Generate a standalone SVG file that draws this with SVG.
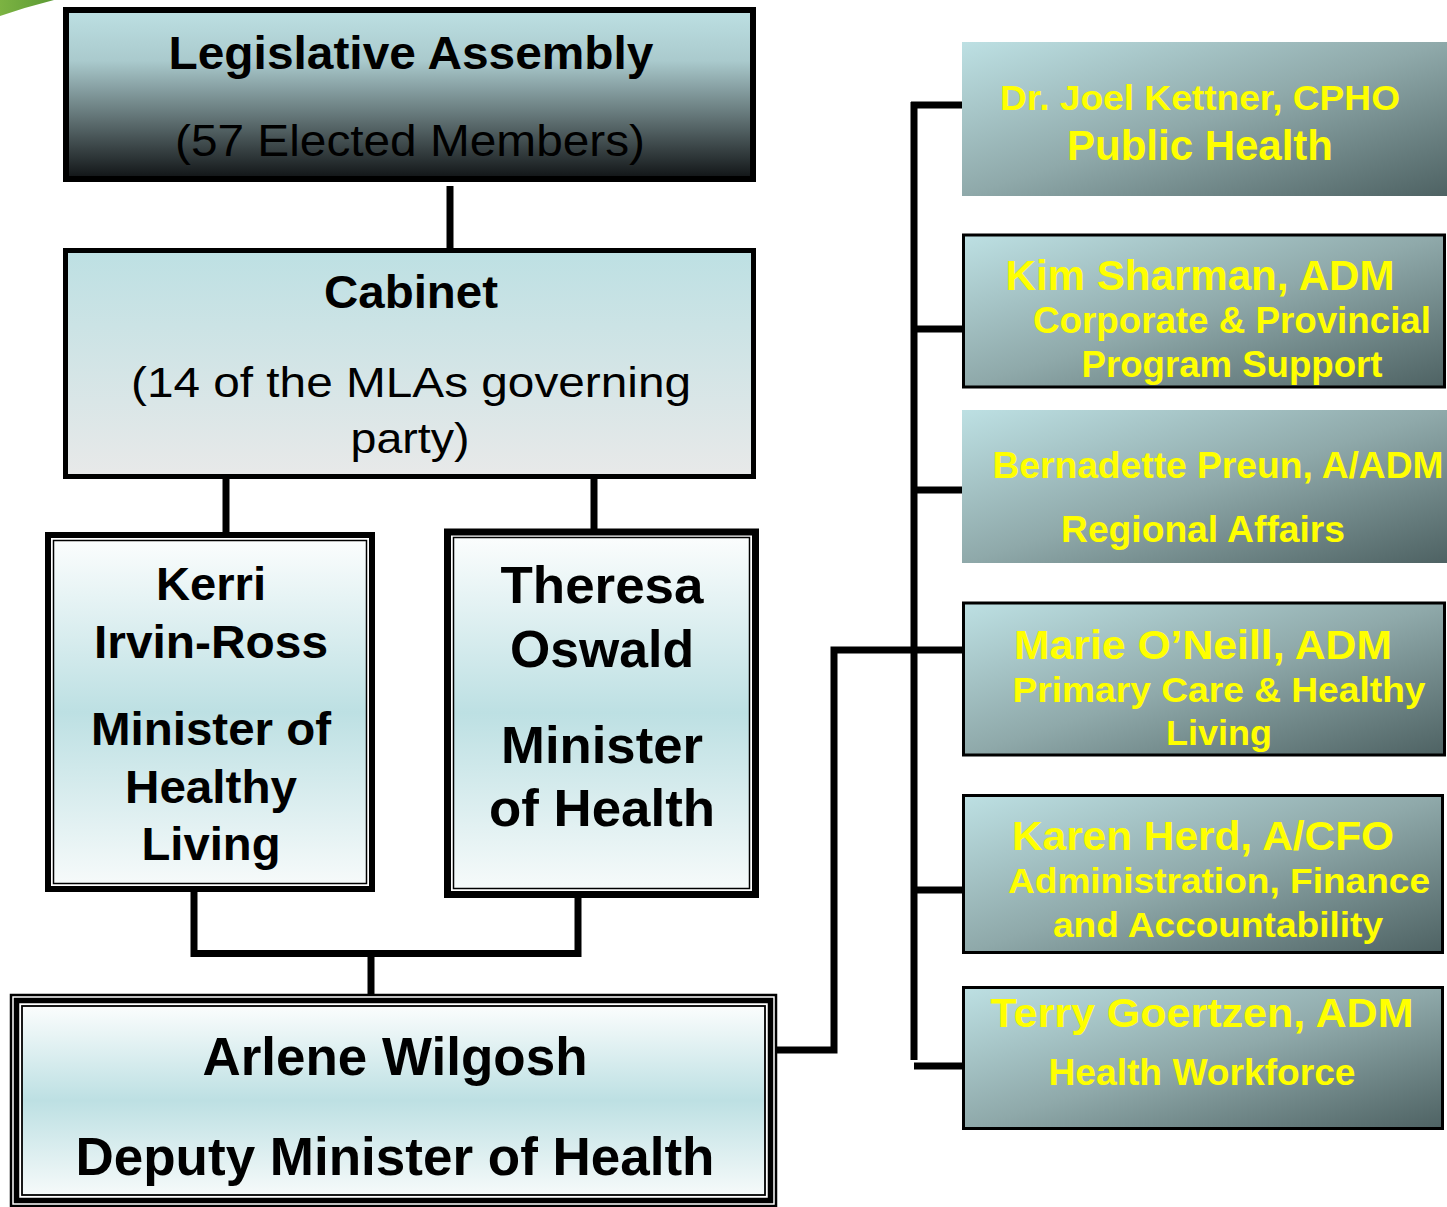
<svg xmlns="http://www.w3.org/2000/svg" width="1447" height="1207" viewBox="0 0 1447 1207">
<defs>
<linearGradient id="gLA" x1="0" y1="0" x2="0" y2="1">
<stop offset="0" stop-color="#bde0e3"/>
<stop offset="0.3" stop-color="#aacacd"/>
<stop offset="0.65" stop-color="#5f7072"/>
<stop offset="1" stop-color="#101315"/>
</linearGradient>
<linearGradient id="gCab" x1="0" y1="0" x2="0" y2="1">
<stop offset="0" stop-color="#bde0e3"/>
<stop offset="1" stop-color="#e8e9e9"/>
</linearGradient>
<linearGradient id="gMin" x1="0" y1="0" x2="0" y2="1">
<stop offset="0" stop-color="#fbfdfd"/>
<stop offset="0.5" stop-color="#bde0e3"/>
<stop offset="1" stop-color="#f6fafa"/>
</linearGradient>
<linearGradient id="gRight" x1="0" y1="0" x2="1" y2="1">
<stop offset="0" stop-color="#bde0e3"/>
<stop offset="0.5" stop-color="#8fa9aa"/>
<stop offset="1" stop-color="#4e6263"/>
</linearGradient>
<linearGradient id="gGreen" x1="0" y1="0" x2="1" y2="0">
<stop offset="0" stop-color="#7cb342"/>
<stop offset="1" stop-color="#5c9a35"/>
</linearGradient>
</defs>
<style>
.bk{font-family:"Liberation Sans",Arial,sans-serif;font-weight:bold;fill:#000;text-anchor:middle}
.rg{font-family:"Liberation Sans",Arial,sans-serif;font-weight:normal;fill:#000;text-anchor:middle}
.yl{font-family:"Liberation Sans",Arial,sans-serif;font-weight:bold;fill:#ffff00;text-anchor:middle}
.ln{stroke:#000;stroke-width:7;fill:none}
.rb{stroke:#000;stroke-width:3}
</style>
<rect width="1447" height="1207" fill="#fff"/>
<path d="M0,0 L54,0 Q26,7 0,16 Z" fill="url(#gGreen)"/>

<g id="connectors">
<line class="ln" x1="450" y1="186" x2="450" y2="250"/>
<line class="ln" x1="226" y1="478" x2="226" y2="535"/>
<line class="ln" x1="594" y1="478" x2="594" y2="536"/>
<line class="ln" x1="194" y1="890" x2="194" y2="957"/>
<line class="ln" x1="578" y1="897" x2="578" y2="957"/>
<line class="ln" x1="194" y1="953.5" x2="578" y2="953.5"/>
<line class="ln" x1="371" y1="953" x2="371" y2="997"/>
<path class="ln" d="M777,1050 H834 V650 H962"/>
<line class="ln" x1="914" y1="102" x2="914" y2="1060"/>
<line class="ln" x1="911" y1="105" x2="962" y2="105"/>
<line class="ln" x1="914" y1="329" x2="962" y2="329"/>
<line class="ln" x1="914" y1="490" x2="962" y2="490"/>
<line class="ln" x1="914" y1="890" x2="962" y2="890"/>
<line class="ln" x1="914" y1="1066" x2="962" y2="1066"/>
</g>

<g id="legislative">
<rect x="66" y="10" width="687" height="169" fill="url(#gLA)" stroke="#000" stroke-width="6"/>
<text class="bk" x="411" y="69" font-size="46" textLength="485" lengthAdjust="spacingAndGlyphs">Legislative Assembly</text>
<text class="rg" x="410" y="156" font-size="44" textLength="470" lengthAdjust="spacingAndGlyphs">(57 Elected Members)</text>
</g>

<g id="cabinet">
<rect x="65.5" y="250.5" width="688" height="226" fill="url(#gCab)" stroke="#000" stroke-width="5"/>
<text class="bk" x="411" y="308" font-size="46" textLength="174" lengthAdjust="spacingAndGlyphs">Cabinet</text>
<text class="rg" x="411" y="397" font-size="42" textLength="560" lengthAdjust="spacingAndGlyphs">(14 of the MLAs governing</text>
<text class="rg" x="410" y="453" font-size="42" textLength="119" lengthAdjust="spacingAndGlyphs">party)</text>
</g>

<g id="kerri">
<rect x="48" y="535" width="324" height="354" fill="#fff" stroke="#000" stroke-width="6"/>
<rect x="53.5" y="540.5" width="313" height="343" fill="url(#gMin)" stroke="#000" stroke-width="1.5"/>
<text class="bk" x="211" y="600" font-size="46" textLength="110" lengthAdjust="spacingAndGlyphs">Kerri</text>
<text class="bk" x="211" y="658" font-size="46" textLength="234" lengthAdjust="spacingAndGlyphs">Irvin-Ross</text>
<text class="bk" x="211" y="745" font-size="46" textLength="240" lengthAdjust="spacingAndGlyphs">Minister of</text>
<text class="bk" x="211" y="803" font-size="46" textLength="172" lengthAdjust="spacingAndGlyphs">Healthy</text>
<text class="bk" x="211" y="860" font-size="46" textLength="139" lengthAdjust="spacingAndGlyphs">Living</text>
</g>

<g id="theresa">
<rect x="447.5" y="532" width="308" height="362.5" fill="#fff" stroke="#000" stroke-width="7"/>
<rect x="453.5" y="537.5" width="296" height="351" fill="url(#gMin)" stroke="#000" stroke-width="1.5"/>
<text class="bk" x="602" y="603" font-size="52" textLength="203" lengthAdjust="spacingAndGlyphs">Theresa</text>
<text class="bk" x="602" y="667" font-size="52" textLength="184" lengthAdjust="spacingAndGlyphs">Oswald</text>
<text class="bk" x="602" y="763" font-size="52" textLength="202" lengthAdjust="spacingAndGlyphs">Minister</text>
<text class="bk" x="602" y="826" font-size="52" textLength="226" lengthAdjust="spacingAndGlyphs">of Health</text>
</g>

<g id="deputy">
<rect x="11" y="995" width="765" height="211" fill="#fff" stroke="#000" stroke-width="2.5"/>
<rect x="16.5" y="1000.5" width="754" height="200" fill="none" stroke="#000" stroke-width="5.5"/>
<rect x="22" y="1006" width="743" height="189" fill="url(#gMin)" stroke="#000" stroke-width="1.8"/>
<text class="bk" x="395" y="1075" font-size="53" textLength="385" lengthAdjust="spacingAndGlyphs">Arlene Wilgosh</text>
<text class="bk" x="395" y="1175" font-size="53" textLength="639" lengthAdjust="spacingAndGlyphs">Deputy Minister of Health</text>
</g>

<g id="public-health">
<rect x="962" y="42" width="485" height="154" fill="url(#gRight)"/>
<text class="yl" x="1200" y="110" font-size="35" textLength="400" lengthAdjust="spacingAndGlyphs">Dr. Joel Kettner, CPHO</text>
<text class="yl" x="1200" y="160" font-size="42" textLength="266" lengthAdjust="spacingAndGlyphs">Public Health</text>
</g>

<g id="kim-sharman">
<rect class="rb" x="963.5" y="235" width="481" height="152" fill="url(#gRight)"/>
<text class="yl" x="1200" y="290" font-size="42" textLength="389" lengthAdjust="spacingAndGlyphs">Kim Sharman, ADM</text>
<text class="yl" x="1232" y="333" font-size="36" textLength="398" lengthAdjust="spacingAndGlyphs">Corporate &amp; Provincial</text>
<text class="yl" x="1232" y="377" font-size="36" textLength="301" lengthAdjust="spacingAndGlyphs">Program Support</text>
</g>

<g id="bernadette">
<rect x="962" y="410" width="485" height="153" fill="url(#gRight)"/>
<text class="yl" x="1218" y="478" font-size="36" textLength="451" lengthAdjust="spacingAndGlyphs">Bernadette Preun, A/ADM</text>
<text class="yl" x="1203" y="542" font-size="36" textLength="284" lengthAdjust="spacingAndGlyphs">Regional Affairs</text>
</g>

<g id="marie">
<rect class="rb" x="963.5" y="603" width="481" height="152" fill="url(#gRight)"/>
<text class="yl" x="1203" y="659" font-size="41" textLength="378" lengthAdjust="spacingAndGlyphs">Marie O’Neill, ADM</text>
<text class="yl" x="1219" y="702" font-size="35" textLength="413" lengthAdjust="spacingAndGlyphs">Primary Care &amp; Healthy</text>
<text class="yl" x="1219" y="745" font-size="35" textLength="106" lengthAdjust="spacingAndGlyphs">Living</text>
</g>

<g id="karen">
<rect class="rb" x="963.5" y="795.5" width="479" height="157" fill="url(#gRight)"/>
<text class="yl" x="1203" y="850" font-size="41" textLength="382" lengthAdjust="spacingAndGlyphs">Karen Herd, A/CFO</text>
<text class="yl" x="1219" y="893" font-size="35" textLength="422" lengthAdjust="spacingAndGlyphs">Administration, Finance</text>
<text class="yl" x="1218" y="937" font-size="35" textLength="330" lengthAdjust="spacingAndGlyphs">and Accountability</text>
</g>

<g id="terry">
<rect class="rb" x="963.5" y="987.5" width="479" height="141" fill="url(#gRight)"/>
<text class="yl" x="1202" y="1027" font-size="41" textLength="423" lengthAdjust="spacingAndGlyphs">Terry Goertzen, ADM</text>
<text class="yl" x="1202" y="1085" font-size="36" textLength="307" lengthAdjust="spacingAndGlyphs">Health Workforce</text>
</g>
</svg>
